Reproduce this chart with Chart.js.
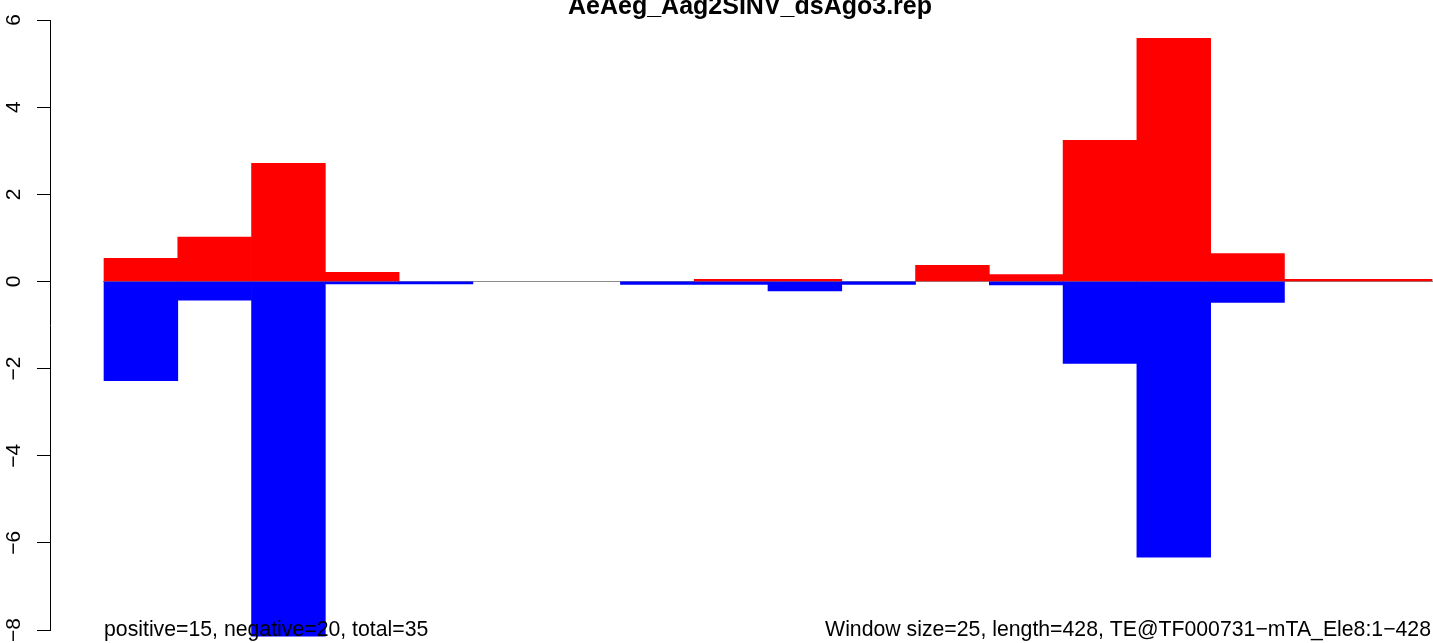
<!DOCTYPE html>
<html>
<head>
<meta charset="utf-8">
<script src="https://cdn.jsdelivr.net/npm/chart.js@4/dist/chart.umd.min.js"></script>
<style>
  html, body { margin: 0; padding: 0; background: #fff; }
  #wrap { width: 1433px; height: 643px; }
</style>
</head>
<body>
<div id="wrap"><canvas id="myChart" width="1433" height="643"></canvas></div>
<script>
// windows of 25 bases along the element (length 428)
const windowSize = 25;
const windowStart = [0, 25, 50, 75, 100, 125, 150, 175, 200, 225, 250, 275, 300, 325, 350, 375, 400, 425];
const positive = [0.53, 1.02, 2.71, 0.21, 0, 0, 0, 0, 0.05, 0.05, 0, 0.37, 0.16, 3.24, 5.58, 0.64, 0.05, 0.05];
const negative = [-2.28, -0.43, -8.14, -0.06, -0.06, 0, 0, -0.07, -0.07, -0.22, -0.07, 0, -0.08, -1.88, -6.33, -0.48, 0, 0];
const yTicks = [-8, -6, -4, -2, 0, 2, 4, 6];

const titleText = 'AeAeg_Aag2SINV_dsAgo3.rep';
const leftNote = 'positive=15, negative=20, total=35';
const rightNote = 'Window size=25, length=428, TE@TF000731\u2212mTA_Ele8:1\u2212428';

const fontFamily = "'Liberation Sans', Arial, Helvetica, sans-serif";

// bar centres on the base axis
const centres = windowStart.map(s => s + windowSize / 2);

// grey zero line under the bars, title and the two notes
const extras = {
  id: 'extras',
  beforeDatasetsDraw(chart) {
    const c = chart.ctx;
    const x = chart.scales.x, y = chart.scales.y;
    const y0 = Math.round(y.getPixelForValue(0)) + 0.5;
    c.save();
    c.strokeStyle = '#8c8c8c';
    c.lineWidth = 1;
    c.beginPath();
    c.moveTo(x.getPixelForValue(windowStart[0]) - 1, y0);
    c.lineTo(chart.chartArea.right, y0);
    c.stroke();
    c.restore();
  },
  afterDraw(chart) {
    const c = chart.ctx;
    c.save();
    c.fillStyle = '#000';
    c.textBaseline = 'alphabetic';
    c.font = 'bold 25px ' + fontFamily;
    c.textAlign = 'center';
    c.fillText(titleText, 750, 14);
    c.font = '21.25px ' + fontFamily;
    c.textAlign = 'left';
    c.fillText(leftNote, 104, 636);
    c.textAlign = 'right';
    c.fillText(rightNote, 1431, 636);
    c.restore();
  }
};

const ctx = document.getElementById('myChart');

new Chart(ctx, {
  type: 'bar',
  data: {
    labels: centres,
    datasets: [{
      label: 'positive',
      data: positive,
      backgroundColor: '#ff0000',
      borderWidth: 0,
      clip: false,
      inflateAmount: c => (c.raw ? 0.33 : 0),
      barPercentage: 1,
      categoryPercentage: 1
    }, {
      label: 'negative',
      data: negative,
      backgroundColor: '#0000ff',
      borderWidth: 0,
      clip: false,
      inflateAmount: c => (c.raw ? 0.33 : 0),
      barPercentage: 1,
      categoryPercentage: 1
    }]
  },
  options: {
    responsive: false,
    animation: false,
    layout: { padding: { top: 20, bottom: 13, left: 0, right: 0 } },
    scales: {
      x: {
        type: 'linear',
        display: false,
        stacked: true,
        offset: false,
        min: -18.3,
        max: 450.34,
        // ticks on the window edges so the bar width follows the windows
        afterBuildTicks: s => { s.ticks = windowStart.map(v => ({ value: v })); }
      },
      y: {
        stacked: true,
        min: -8,
        max: 6,
        afterBuildTicks: s => { s.ticks = yTicks.map(v => ({ value: v })); },
        afterFit: s => {
          s.width = 50;
          s.paddingTop = 0;
          s.paddingBottom = 0;
        },
        border: { display: true, color: '#000', width: 1 },
        grid: {
          drawOnChartArea: false,
          drawTicks: true,
          tickLength: 13,
          tickColor: '#000',
          tickWidth: 1
        },
        ticks: {
          color: '#000',
          font: { family: fontFamily, size: 21 },
          minRotation: 90,
          maxRotation: 90,
          crossAlign: 'center',
          padding: 11,
          callback: v => (v < 0 ? '\u2212' + Math.abs(v) : '' + v)
        }
      }
    },
    plugins: {
      legend: { display: false },
      tooltip: { enabled: false },
      title: { display: false }
    }
  },
  plugins: [extras]
});
</script>
</body>
</html>
